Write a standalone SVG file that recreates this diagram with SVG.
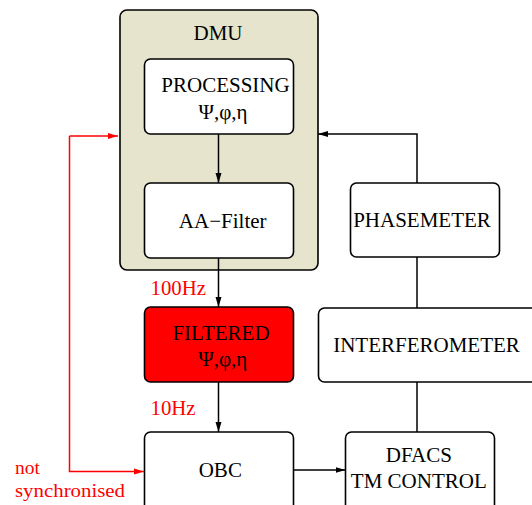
<svg xmlns="http://www.w3.org/2000/svg" width="532" height="505" viewBox="0 0 532 505">
<style>
.box{fill:#fff;stroke:#000;stroke-width:1.6}
.t{font-family:"Liberation Serif",serif;font-size:21px;fill:#000;text-anchor:middle}
.r{font-family:"Liberation Serif",serif;font-size:20.8px;fill:#f00}
.rs{font-family:"Liberation Serif",serif;font-size:19.5px;fill:#f00}
.c{fill:none;stroke:#000;stroke-width:1.5}
.cr{fill:none;stroke:#f00;stroke-width:1.5}
</style>
<defs>
<marker id="ab" markerWidth="10" markerHeight="8" refX="10" refY="4" orient="auto" markerUnits="userSpaceOnUse"><path d="M0,1 L10,4 L0,7 Z" fill="#000"/></marker>
<marker id="ar" markerWidth="10" markerHeight="8" refX="10" refY="4" orient="auto" markerUnits="userSpaceOnUse"><path d="M0,1 L10,4 L0,7 Z" fill="#f00"/></marker>
</defs>
<rect width="532" height="505" fill="#fff"/>
<g id="dmu">
<rect x="120" y="10" width="198" height="260" rx="7" fill="#e6e4cc" stroke="#000" stroke-width="1.6"/>
<text class="t" x="218" y="40">DMU</text>
</g>
<g id="processing">
<rect class="box" x="144.5" y="59" width="149" height="75" rx="6"/>
<text class="t"><tspan x="225.5" y="92">PROCESSING</tspan><tspan x="223" y="119">Ψ,φ,η</tspan></text>
</g>
<g id="aafilter">
<rect class="box" x="144.5" y="183" width="149" height="75" rx="6"/>
<text class="t" x="222.7" y="228">AA−Filter</text>
</g>
<g id="filtered">
<rect x="144.5" y="307" width="149" height="75" rx="6" fill="#f00" stroke="#000" stroke-width="1.6"/>
<text class="t"><tspan x="221" y="340">FILTERED</tspan><tspan x="222.8" y="366">Ψ,φ,η</tspan></text>
</g>
<g id="obc">
<rect class="box" x="144.5" y="432" width="149" height="80" rx="6"/>
<text class="t" x="220.3" y="477">OBC</text>
</g>
<g id="phasemeter">
<rect class="box" x="350.5" y="183" width="149" height="74" rx="6"/>
<text class="t" x="422" y="227">PHASEMETER</text>
</g>
<g id="interferometer">
<rect class="box" x="318.5" y="308" width="230" height="74" rx="6"/>
<text class="t" x="426.5" y="352">INTERFEROMETER</text>
</g>
<g id="dfacs">
<rect class="box" x="345.5" y="432" width="149" height="80" rx="6"/>
<text class="t"><tspan x="418.8" y="462">DFACS</tspan><tspan x="418.8" y="488">TM CONTROL</tspan></text>
</g>
<g id="connectors">
<line class="c" x1="218.5" y1="134" x2="218.5" y2="183" marker-end="url(#ab)"/>
<line class="c" x1="218.5" y1="258" x2="218.5" y2="307" marker-end="url(#ab)"/>
<line class="c" x1="218.5" y1="382" x2="218.5" y2="432" marker-end="url(#ab)"/>
<polyline class="c" points="417,183 417,134 318,134" marker-end="url(#ab)"/>
<line class="c" x1="417" y1="257" x2="417" y2="308"/>
<line class="c" x1="417" y1="382" x2="417" y2="432"/>
<line class="c" x1="293.5" y1="470" x2="345.5" y2="470" marker-end="url(#ab)"/>
<polyline class="cr" points="69.5,136 69.5,471.5 144,471.5" marker-end="url(#ar)"/>
<line class="cr" x1="69.5" y1="136" x2="118" y2="136" marker-end="url(#ar)"/>
</g>
<text class="r" x="150.5" y="294.5">100Hz</text>
<text class="r" x="150.5" y="415">10Hz</text>
<text class="rs" x="15" y="474">not</text>
<text class="rs" x="15" y="497" textLength="110" lengthAdjust="spacingAndGlyphs">synchronised</text>
</svg>
